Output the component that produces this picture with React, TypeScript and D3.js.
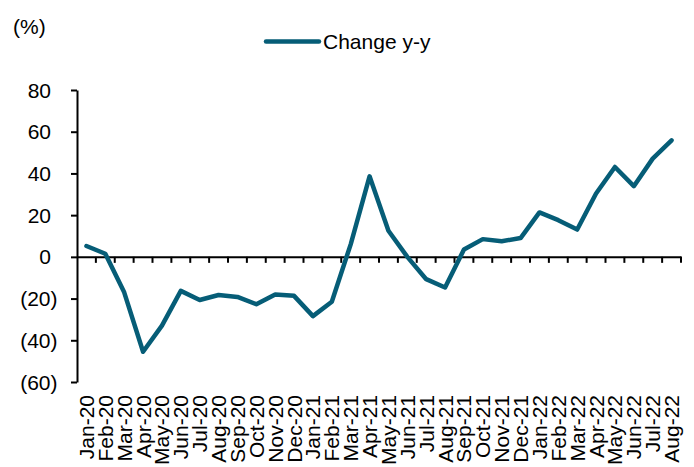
import React, { useRef, useEffect } from "react";
import * as d3 from "d3";

const months = [
  "Jan-20", "Feb-20", "Mar-20", "Apr-20", "May-20", "Jun-20", "Jul-20", "Aug-20",
  "Sep-20", "Oct-20", "Nov-20", "Dec-20", "Jan-21", "Feb-21", "Mar-21", "Apr-21",
  "May-21", "Jun-21", "Jul-21", "Aug-21", "Sep-21", "Oct-21", "Nov-21", "Dec-21",
  "Jan-22", "Feb-22", "Mar-22", "Apr-22", "May-22", "Jun-22", "Jul-22", "Aug-22",
];

const changeYY = [
  5.2, 1.5, -17, -45.5, -33, -16.3, -20.7, -18.3,
  -19.2, -22.7, -18, -18.7, -28.4, -21.5, 6, 38.6,
  12.5, 0, -10.7, -14.7, 3.5, 8.5, 7.5, 9,
  21.3, 17.6, 13.1, 30.4, 43.1, 33.9, 47.1, 55.9,
];

const yTicks = [-60, -40, -20, 0, 20, 40, 60, 80];

const seriesName = "Change y-y";
const unitLabel = "(%)";

const W = 694;
const H = 467;
const FONT = "Arial, 'Liberation Sans', sans-serif";
const LINE_COLOR = "#065d77";

export default function App() {
  const svgRef = useRef<SVGSVGElement>(null);

  useEffect(() => {
    if (!svgRef.current) return;
    const svg = d3.select(svgRef.current);
    svg.selectAll("*").remove();

    const plot = { left: 77, right: 681, top: 90, bottom: 382 };

    const x = d3
      .scaleBand<string>()
      .domain(months)
      .range([plot.left, plot.right])
      .padding(0);

    const y = d3
      .scaleLinear()
      .domain([-60, 80])
      .range([plot.bottom, plot.top]);

    const fmt = (v: number) => (v < 0 ? `(${Math.abs(v)})` : `${v}`);

    // y axis
    const yAxis = svg
      .append("g")
      .attr("transform", `translate(${plot.left},0)`)
      .call(
        d3
          .axisLeft(y)
          .tickValues(yTicks)
          .tickSize(6)
          .tickSizeOuter(0)
          .tickPadding(0)
          .tickFormat(() => "")
      );
    yAxis.select(".domain").attr("stroke", "#000").attr("stroke-width", 2);
    yAxis.selectAll(".tick line").attr("stroke", "#000").attr("stroke-width", 2);

    // y tick labels (positive numbers leave room for the ")" like Excel)
    svg
      .append("g")
      .selectAll("text")
      .data(yTicks)
      .enter()
      .append("text")
      .attr("x", (d) => (d < 0 ? 57.5 : 51))
      .attr("y", (d) => y(d))
      .attr("dy", "0.36em")
      .attr("text-anchor", "end")
      .attr("font-family", FONT)
      .attr("font-size", 21)
      .attr("fill", "#000")
      .text((d) => fmt(d));

    // x axis along zero
    const xAxis = svg
      .append("g")
      .attr("transform", `translate(0,${y(0)})`)
      .call(d3.axisBottom(x).tickSize(0).tickFormat(() => ""));
    xAxis.select(".domain").attr("stroke", "#000").attr("stroke-width", 2);

    // boundary tick marks between categories
    const bounds = months.slice(1).map((m) => x(m)!).concat([plot.right]);
    svg
      .append("g")
      .selectAll("line")
      .data(bounds)
      .enter()
      .append("line")
      .attr("x1", (d) => d)
      .attr("x2", (d) => d)
      .attr("y1", y(0))
      .attr("y2", y(0) + 6)
      .attr("stroke", "#000")
      .attr("stroke-width", 2);

    // rotated month labels
    svg
      .append("g")
      .selectAll("text")
      .data(months)
      .enter()
      .append("text")
      .attr(
        "transform",
        (d) => `translate(${x(d)! + x.bandwidth() / 2 + 7.5},395) rotate(-90)`
      )
      .attr("text-anchor", "end")
      .attr("font-family", FONT)
      .attr("font-size", 21)
      .attr("fill", "#000")
      .text((d) => d);

    // series line
    const line = d3
      .line<number>()
      .x((_, i) => x(months[i])! + x.bandwidth() / 2)
      .y((d) => y(d));

    svg
      .append("path")
      .datum(changeYY)
      .attr("fill", "none")
      .attr("stroke", LINE_COLOR)
      .attr("stroke-width", 4.5)
      .attr("stroke-linejoin", "round")
      .attr("stroke-linecap", "round")
      .attr("d", line);

    // unit label
    svg
      .append("text")
      .attr("x", 13)
      .attr("y", 34)
      .attr("font-family", FONT)
      .attr("font-size", 21)
      .attr("fill", "#000")
      .text(unitLabel);

    // legend
    const legend = svg.append("g").attr("transform", "translate(266,41.5)");
    legend
      .append("line")
      .attr("x1", 0)
      .attr("x2", 53)
      .attr("y1", 0)
      .attr("y2", 0)
      .attr("stroke", LINE_COLOR)
      .attr("stroke-width", 4.5)
      .attr("stroke-linecap", "round");
    legend
      .append("text")
      .attr("x", 57)
      .attr("y", 0)
      .attr("dy", "0.36em")
      .attr("font-family", FONT)
      .attr("font-size", 21)
      .attr("fill", "#000")
      .text(seriesName);
  }, []);

  return (
    <svg
      ref={svgRef}
      width={W}
      height={H}
      style={{ position: "absolute", left: 0, top: 0, background: "#fff" }}
    />
  );
}
